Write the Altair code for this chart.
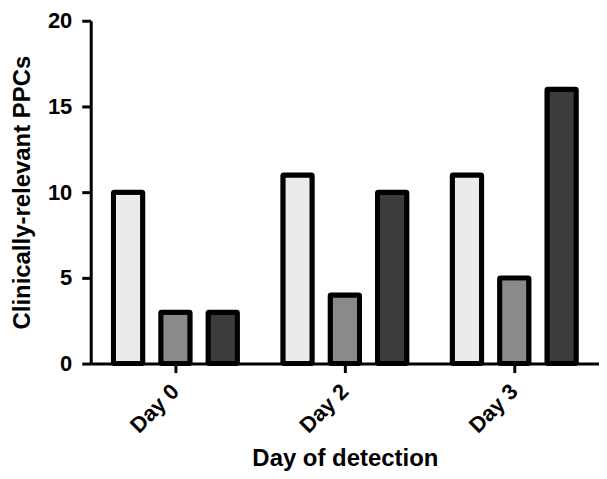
import altair as alt
import pandas as pd

days = ["Day 0", "Day 2", "Day 3"]
series = ["A", "B", "C"]
values = {
    "A": [10, 11, 11],
    "B": [3, 4, 5],
    "C": [3, 10, 16],
}
fills = ["#ebebeb", "#8a8a8a", "#3c3c3c"]

rows = []
for s in series:
    for d, v in zip(days, values[s]):
        rows.append({"day": d, "series": s, "value": v})
df = pd.DataFrame(rows)

FONT = "Liberation Sans"

chart = alt.Chart(df).mark_bar(
    stroke="black", strokeWidth=5, strokeJoin="round", cornerRadius=1
).encode(
    x=alt.X("day:N", sort=days,
            scale=alt.Scale(paddingInner=0, paddingOuter=0),
            axis=alt.Axis(title="Day of detection", labelAngle=-45, labelAlign="right",
                          labelBaseline="middle", labelPadding=15,
                          labelFont=FONT, labelFontSize=22, labelFontWeight="bold",
                          labelColor="black",
                          titleFont=FONT, titleFontSize=24, titleFontWeight="bold",
                          titleColor="black", titlePadding=10,
                          domainColor="black", domainWidth=3,
                          tickColor="black", tickWidth=3, tickSize=9)),
    xOffset=alt.XOffset("series:N", sort=series,
                        scale=alt.Scale(paddingInner=0.38, paddingOuter=0.48)),
    y=alt.Y("value:Q", scale=alt.Scale(domain=[0, 20]),
            axis=alt.Axis(title="Clinically-relevant PPCs", values=[0, 5, 10, 15, 20],
                          labelFont=FONT, labelFontSize=22, labelFontWeight="bold",
                          labelColor="black", labelPadding=10,
                          titleFont=FONT, titleFontSize=24, titleFontWeight="bold",
                          titleColor="black", titlePadding=13,
                          domainColor="black", domainWidth=3,
                          tickColor="black", tickWidth=3, tickSize=9, grid=False)),
    fill=alt.Fill("series:N", sort=series, scale=alt.Scale(domain=series, range=fills),
                  legend=None),
).properties(
    width=510, height=344,
    autosize=alt.AutoSizeParams(type="none"),
    padding={"left": 83, "top": 12, "right": 0, "bottom": 107},
).configure_view(stroke=None)

chart.save("out.html", embed_options={"renderer": "svg", "actions": False})
